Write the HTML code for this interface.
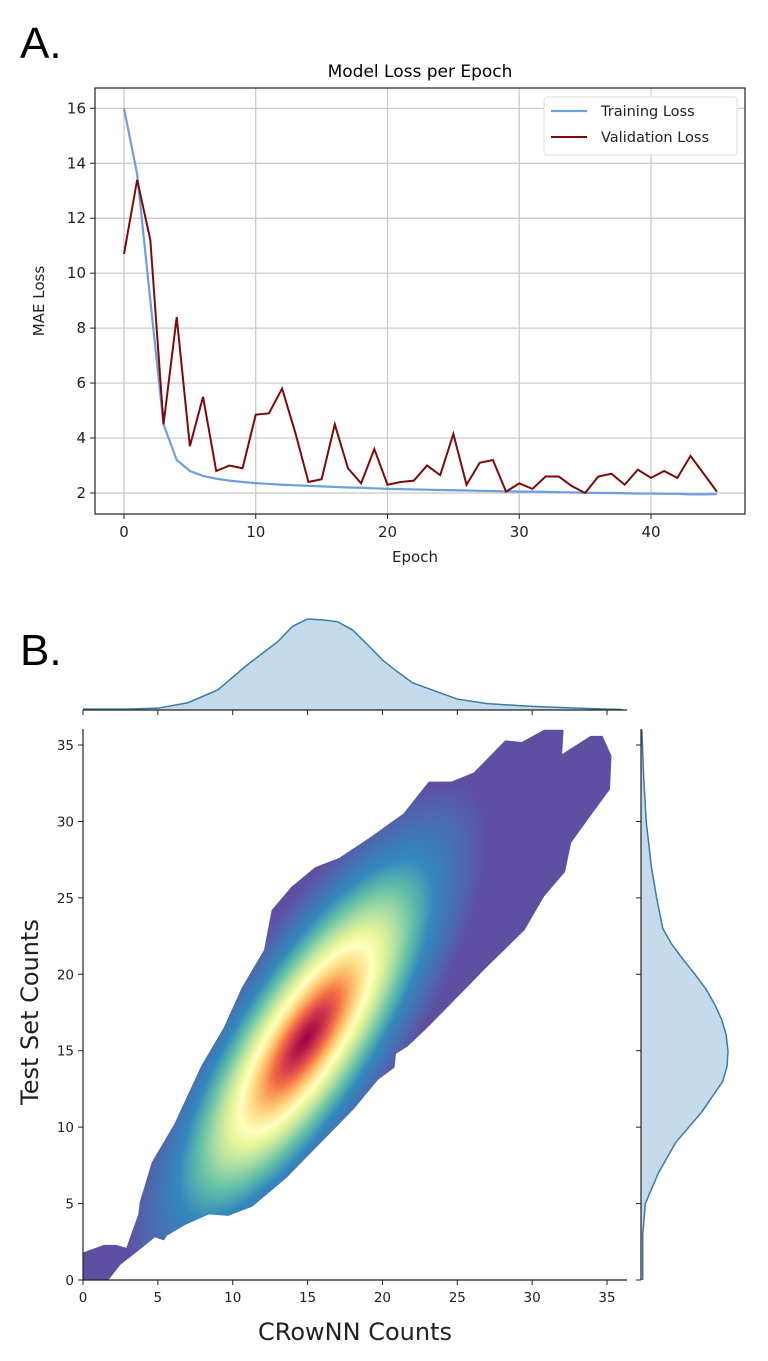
<!DOCTYPE html>
<html><head><meta charset="utf-8"><style>
body{margin:0;background:#fff;}
svg{display:block;font-family:"DejaVu Sans","Liberation Sans",sans-serif;}
</style></head><body>
<svg id="fig" width="768" height="1361" viewBox="0 0 768 1361">
<text x="20" y="58" font-size="44" font-family="Liberation Sans,sans-serif">A.</text>
<text x="20" y="665" font-size="44" font-family="Liberation Sans,sans-serif">B.</text>
<g id="chartA"></g>
<g id="chartB"></g>
</svg>
<script>
const epochs=[...Array(46).keys()];
const trainLoss=[16,13.6,9.0,4.5,3.2,2.8,2.62,2.52,2.45,2.4,2.36,2.33,2.3,2.28,2.26,2.24,2.22,2.2,2.19,2.17,2.15,2.14,2.13,2.12,2.11,2.1,2.09,2.08,2.07,2.06,2.05,2.05,2.04,2.03,2.02,2.01,2.0,2.0,1.99,1.98,1.98,1.97,1.97,1.95,1.95,1.96];
const valLoss=[10.7,13.4,11.2,4.5,8.4,3.7,5.5,2.8,3.0,2.9,4.85,4.9,5.8,4.2,2.4,2.5,4.5,2.9,2.35,3.6,2.3,2.4,2.45,3.0,2.65,4.15,2.3,3.1,3.2,2.05,2.35,2.15,2.6,2.6,2.25,2.0,2.6,2.7,2.3,2.85,2.55,2.8,2.55,3.35,2.7,2.05];
const xTicksA=[0,10,20,30,40];
const yTicksA=[2,4,6,8,10,12,14,16];
// KDE outline (CRowNN, Test) in data units
const outlineX=[0,0,1.4,2.2,2.9,3.7,3.8,4.6,6.1,7.9,9.4,10.6,12.1,12.6,13.9,15.5,17.1,19.1,21.4,23.1,24.6,26.1,28.2,29.3,30.8,32.1,32,33.9,34.7,35.3,35.2,34.0,32.6,32.2,30.8,29.5,26.9,24.6,23.0,21.7,20.9,20.8,19.7,18.1,15.5,13.6,11.3,9.7,8.4,6.8,5.6,5.4,4.8,3.8,2.5,1.7];
const outlineY=[0,1.8,2.3,2.3,2.1,4.3,5.1,7.7,10.2,14.0,16.5,19.1,21.6,24.2,25.7,27.0,27.6,28.9,30.5,32.6,32.6,33.2,35.3,35.2,36,36,34.4,35.6,35.6,34.3,32.1,30.5,28.6,26.7,25.1,22.9,20.4,18.1,16.5,15.3,14.8,13.9,13.1,11.2,8.6,6.7,4.8,4.2,4.3,3.6,2.9,2.6,2.8,2.0,1.0,0];
const peakX=14.9, peakY=15.8;
const margX=[0,3,5,7,9,11,13,14,15,16,17,18,19,20,21,22,23,25,27,30,33,35,36];
const margXDens=[0.01,0.01,0.02,0.08,0.22,0.5,0.75,0.92,1.0,0.99,0.97,0.88,0.72,0.55,0.42,0.3,0.24,0.12,0.07,0.04,0.02,0.01,0.005];
const margY=[0,3,5,7,9,10,11,12,13,14,15,16,17,18,19,20,21,22,23,25,27,30,33,36];
const margYDens=[0.02,0.02,0.05,0.2,0.4,0.55,0.7,0.82,0.94,0.99,1.0,0.98,0.93,0.85,0.75,0.62,0.48,0.35,0.25,0.18,0.12,0.06,0.03,0.01];
const ticksB=[0,5,10,15,20,25,30,35];

const NS='http://www.w3.org/2000/svg';
function mk(p,t,a){const e=document.createElementNS(NS,t);for(const k in a)e.setAttribute(k,a[k]);p.appendChild(e);return e;}

// ---- Chart A
const A=document.getElementById('chartA');
const ax0=95,ax1=745,ay0=88,ay1=514;
const xA=v=>124+(v-0)*(651-124)/40;
const yA=v=>493-(v-2)*(493-108.3)/14;
let t=mk(A,'text',{x:420,y:77,'text-anchor':'middle','font-size':17});t.textContent='Model Loss per Epoch';

xTicksA.forEach(v=>{const l=mk(A,'line',{x1:xA(v),x2:xA(v),y1:ay0,y2:ay1,stroke:'#c8c8c8','stroke-width':1.2});

mk(A,'line',{x1:xA(v),x2:xA(v),y1:ay1,y2:ay1+5,stroke:'#222'});
const tx=mk(A,'text',{x:xA(v),y:ay1+23,'text-anchor':'middle','font-size':15,fill:'#222'});tx.textContent=v;
});
yTicksA.forEach(v=>{const l=mk(A,'line',{x1:ax0,x2:ax1,y1:yA(v),y2:yA(v),stroke:'#c8c8c8','stroke-width':1.2});

mk(A,'line',{x1:ax0-5,x2:ax0,y1:yA(v),y2:yA(v),stroke:'#222'});
const tx=mk(A,'text',{x:ax0-9,y:yA(v)+5,'text-anchor':'end','font-size':15,fill:'#222'});tx.textContent=v;
});
let pl=mk(A,'polyline',{points:epochs.map((e,i)=>xA(e)+','+yA(trainLoss[i])).join(' '),fill:'none',stroke:'#6f9ee0','stroke-width':2.2});

pl=mk(A,'polyline',{points:epochs.map((e,i)=>xA(e)+','+yA(valLoss[i])).join(' '),fill:'none',stroke:'#7d0a0a','stroke-width':2});

mk(A,'rect',{x:ax0,y:ay0,width:ax1-ax0,height:ay1-ay0,fill:'none',stroke:'#222','stroke-width':1.2});
t=mk(A,'text',{x:(ax0+ax1)/2-5,y:ay1+48,'text-anchor':'middle','font-size':15,fill:'#222'});t.textContent='Epoch';

t=mk(A,'text',{x:44,y:(ay0+ay1)/2,'text-anchor':'middle','font-size':15,fill:'#222',transform:'rotate(-90 44 '+(ay0+ay1)/2+')'});t.textContent='MAE Loss';

const lg=mk(A,'g',{});
mk(lg,'rect',{x:544,y:97,width:193,height:58,fill:'#fff',stroke:'#ddd',rx:3});
mk(lg,'line',{x1:551,x2:587,y1:111,y2:111,stroke:'#6f9ee0','stroke-width':2.2});
mk(lg,'line',{x1:551,x2:587,y1:137,y2:137,stroke:'#7d0a0a','stroke-width':2});
t=mk(lg,'text',{x:601,y:116,'font-size':14.5,fill:'#222'});t.textContent='Training Loss';

t=mk(lg,'text',{x:601,y:142,'font-size':14.5,fill:'#222'});t.textContent='Validation Loss';


// ---- Chart B
const B=document.getElementById('chartB');
const xB=v=>83+v*(607-83)/35;
const yB=v=>1280-v*(1280-745)/35;
const bx1=627,by0=729;
const defs=mk(B,'defs',{});
const cp=mk(defs,'clipPath',{id:'kclip'});
mk(cp,'polygon',{points:outlineX.map((x,i)=>xB(x)+','+yB(outlineY[i])).join(' ')});
const rg=mk(defs,'radialGradient',{id:'spec',cx:'0.5',cy:'0.5',r:'0.5'});
[[0,'#9e0142'],[0.06,'#b51a48'],[0.12,'#d53e4f'],[0.18,'#f46d43'],[0.24,'#fdae61'],[0.3,'#fee08b'],[0.36,'#ffffbf'],[0.42,'#e6f598'],[0.5,'#abdda4'],[0.58,'#66c2a5'],[0.7,'#3288bd'],[0.85,'#4a6cb0'],[1,'#5e4fa2']].forEach(s=>mk(rg,'stop',{offset:s[0],'stop-color':s[1]}));
const kg=mk(B,'g',{'clip-path':'url(#kclip)'});

mk(kg,'rect',{x:60,y:720,width:600,height:600,fill:'#5e4fa2'});
const cx=xB(peakX),cy=yB(peakY);
mk(kg,'ellipse',{cx:cx,cy:cy,rx:300,ry:95,fill:'url(#spec)',transform:'rotate(-57 '+cx+' '+cy+')'});
// main axes
mk(B,'line',{x1:83,x2:bx1,y1:1280,y2:1280,stroke:'#222','stroke-width':1.2});
mk(B,'line',{x1:83,x2:83,y1:by0,y2:1280,stroke:'#222','stroke-width':1.2});
ticksB.forEach(v=>{mk(B,'line',{x1:xB(v),x2:xB(v),y1:1280,y2:1285,stroke:'#222'});
let tx=mk(B,'text',{x:xB(v),y:1302,'text-anchor':'middle','font-size':13.5,fill:'#222'});tx.textContent=v;

mk(B,'line',{x1:78,x2:83,y1:yB(v),y2:yB(v),stroke:'#222'});
tx=mk(B,'text',{x:74,y:yB(v)+5,'text-anchor':'end','font-size':13.5,fill:'#222'});tx.textContent=v;

mk(B,'line',{x1:xB(v),x2:xB(v),y1:710,y2:715,stroke:'#222'});
mk(B,'line',{x1:636,x2:641,y1:yB(v),y2:yB(v),stroke:'#222'});});
t=mk(B,'text',{x:355,y:1340,'text-anchor':'middle','font-size':24,fill:'#222'});t.textContent='CRowNN Counts';

t=mk(B,'text',{x:38,y:1012,'text-anchor':'middle','font-size':24,fill:'#222',transform:'rotate(-90 38 1012)'});t.textContent='Test Set Counts';

// top marginal
const topPts=margX.map((x,i)=>xB(x)+','+(710-margXDens[i]*91));
let mp=mk(B,'polygon',{points:xB(margX[0])+',710 '+topPts.join(' ')+' '+xB(margX[margX.length-1])+',710',fill:'#c5dbec',stroke:'none'});

mp=mk(B,'polyline',{points:topPts.join(' '),fill:'none',stroke:'#3a7ca5','stroke-width':1.5});

mk(B,'line',{x1:83,x2:bx1,y1:710,y2:710,stroke:'#222','stroke-width':1.2});
// right marginal
const rPts=margY.map((y,i)=>(641+margYDens[i]*87)+','+yB(y));
mp=mk(B,'polygon',{points:'641,'+yB(margY[0])+' '+rPts.join(' ')+' 641,'+yB(margY[margY.length-1]),fill:'#c5dbec',stroke:'none'});

mp=mk(B,'polyline',{points:rPts.join(' '),fill:'none',stroke:'#3a7ca5','stroke-width':1.5});

mk(B,'line',{x1:641,x2:641,y1:by0,y2:1280,stroke:'#222','stroke-width':1.2});
</script>
</body></html>
